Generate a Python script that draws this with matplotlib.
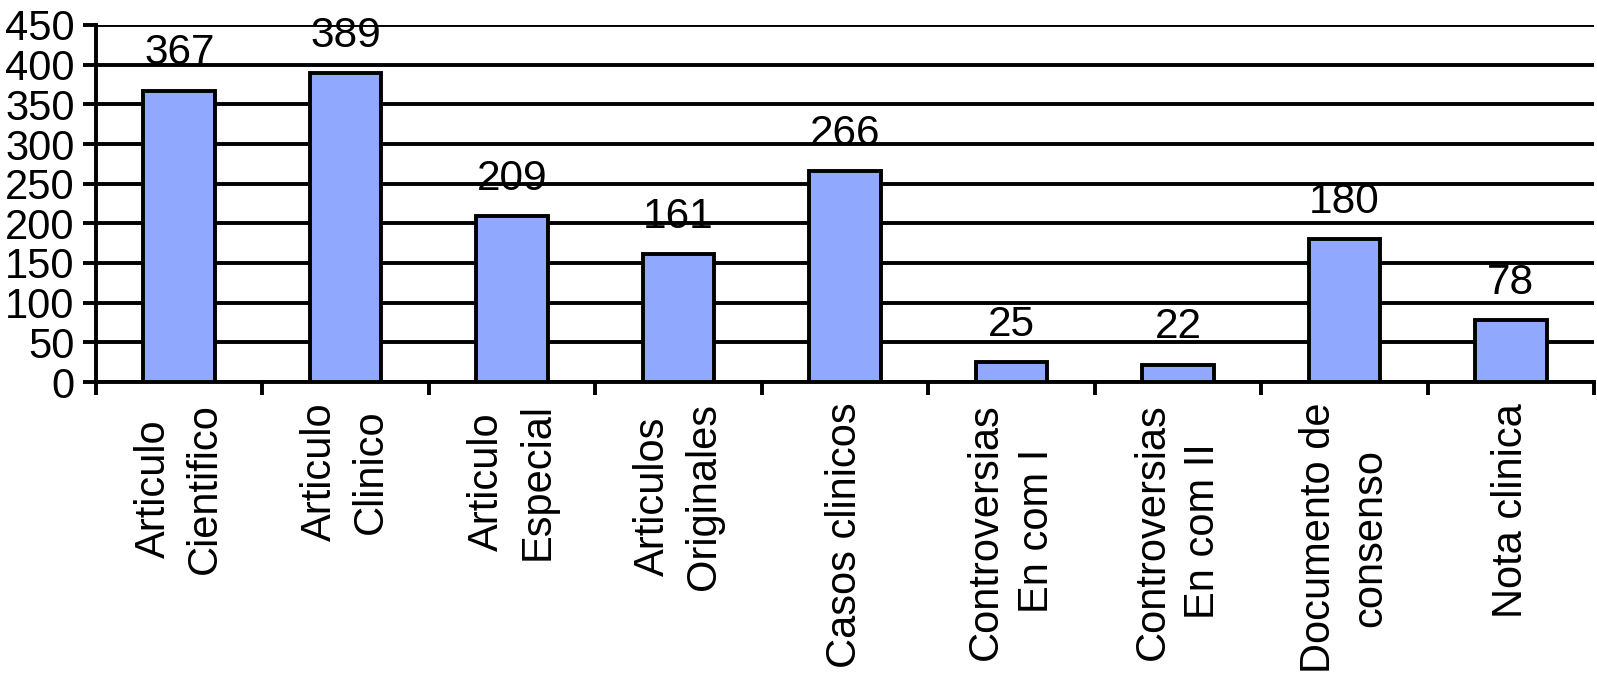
import numpy as np
import matplotlib.pyplot as plt
from matplotlib.ticker import FixedLocator

plt.rcParams['font.family'] = ['Liberation Sans', 'DejaVu Sans']

# data
categories = ['Articulo\nCientifico', 'Articulo\nClinico', 'Articulo\nEspecial',
              'Articulos\nOriginales', 'Casos clinicos', 'Controversias\nEn com I',
              'Controversias\nEn com II', 'Documento de\nconsenso', 'Nota clinica']
counts = [367, 389, 209, 161, 266, 25, 22, 180, 78]
y_ticks = [0, 50, 100, 150, 200, 250, 300, 350, 400, 450]

fig = plt.figure(figsize=(15.97, 6.74), dpi=100)
ax = fig.add_axes([96 / 1597, 1 - 382 / 674, (1594 - 96) / 1597, (382 - 25) / 674])

lw = 2.8
x = np.arange(len(categories))
ax.set_axisbelow(True)
ax.grid(True, axis='y', color='black', linewidth=lw)
ax.bar(x, counts, width=0.43, color='#91A8FF', edgecolor='black', linewidth=lw, zorder=3)

for xi, c in zip(x, counts):
    ax.annotate(str(c), (xi, c), xytext=(0, 19), textcoords='offset points',
                ha='center', va='baseline', fontsize=30.5)

ax.set_xlim(-0.5, len(categories) - 0.5)
ax.set_ylim(0, 450)
ax.set_yticks(y_ticks)
ax.set_xticks(x)
ax.set_xticklabels(categories, rotation=90, ha='center', va='top',
                   multialignment='center', linespacing=1.35)
ax.xaxis.set_minor_locator(FixedLocator(np.arange(-0.5, len(categories), 1.0)))

ax.tick_params(axis='x', which='major', length=0, pad=15, labelsize=30)
ax.tick_params(axis='x', which='minor', length=9.5, width=lw, direction='out')
ax.tick_params(axis='y', length=9.5, width=lw, pad=6, labelsize=30)

for s in ['top', 'right']:
    ax.spines[s].set_visible(False)
for s in ['left', 'bottom']:
    ax.spines[s].set_linewidth(lw)

fig.savefig('out.png', dpi=100)
